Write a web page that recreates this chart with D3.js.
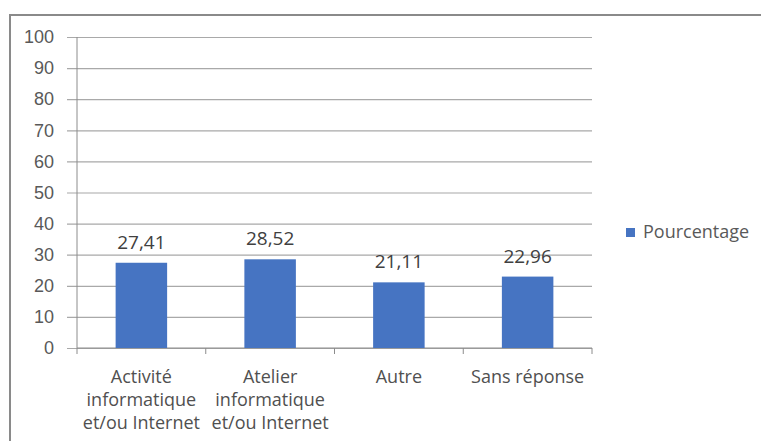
<!DOCTYPE html>
<html>
<head>
<meta charset="utf-8">
<script src="https://cdn.jsdelivr.net/npm/d3@7"></script>
<style>
  html, body { margin: 0; padding: 0; background: #fff; }
  svg { display: block; font-family: "Open Sans", "Liberation Sans", sans-serif; }
</style>
</head>
<body>
<svg id="chart" width="761" height="441"></svg>
<script>
// Chart data
const categories = [
  ["Activité", "informatique", "et/ou Internet"],
  ["Atelier", "informatique", "et/ou Internet"],
  ["Autre"],
  ["Sans réponse"]
];
const values = [27.41, 28.52, 21.11, 22.96];
const valueLabels = ["27,41", "28,52", "21,11", "22,96"];
const yTicks = [0, 10, 20, 30, 40, 50, 60, 70, 80, 90, 100];
const seriesName = "Pourcentage";

const svg = d3.select("#chart");
const barColor = "#4674c2";
const gridColor = "#8c8c8c";
const textColor = "#595959";

// Outer chart frame
svg.append("rect")
  .attr("x", 10).attr("y", 15)
  .attr("width", 800).attr("height", 500)
  .attr("fill", "none").attr("stroke", "#8a8a8a").attr("stroke-width", 2);

const plot = { left: 77, right: 592, top: 37, bottom: 348 };

const x = d3.scaleBand()
  .domain(d3.range(categories.length))
  .range([plot.left, plot.right])
  .padding(0);

const y = d3.scaleLinear()
  .domain([0, 100])
  .range([plot.bottom, plot.top]);

// Gridlines with y ticks
const yAxis = d3.axisLeft(y)
  .tickValues(yTicks)
  .tickSize(-(plot.right - plot.left))
  .tickSizeOuter(0)
  .tickPadding(23)
  .tickFormat(d3.format("d"));

const gy = svg.append("g")
  .attr("transform", `translate(${plot.left},0)`)
  .call(yAxis);
gy.select(".domain").remove();
gy.selectAll(".tick line")
  .attr("x1", -10)
  .attr("stroke", gridColor).attr("stroke-width", 1.2).attr("opacity", 0.75);
gy.selectAll(".tick text")
  .attr("fill", textColor)
  .style("font-size", "18px");

// Vertical axis line
svg.append("line")
  .attr("x1", plot.left).attr("x2", plot.left)
  .attr("y1", plot.top).attr("y2", plot.bottom)
  .attr("stroke", gridColor);

// Category axis with boundary ticks
svg.append("line")
  .attr("x1", plot.left).attr("x2", plot.right)
  .attr("y1", plot.bottom).attr("y2", plot.bottom)
  .attr("stroke", gridColor);
const boundaries = d3.range(categories.length).map(i => x(i)).concat([x.range()[1]]);
svg.append("g").selectAll("line")
  .data(boundaries)
  .join("line")
  .attr("x1", d => d).attr("x2", d => d)
  .attr("y1", plot.bottom).attr("y2", plot.bottom + 6)
  .attr("stroke", gridColor);

// Bars
const barW = x.bandwidth() * 0.4;
svg.append("g").selectAll("rect")
  .data(values)
  .join("rect")
  .attr("x", (d, i) => x(i) + (x.bandwidth() - barW) / 2)
  .attr("y", d => y(d))
  .attr("width", barW)
  .attr("height", d => y(0) - y(d))
  .attr("fill", barColor);

// Value labels
svg.append("g").selectAll("text")
  .data(values)
  .join("text")
  .attr("x", (d, i) => x(i) + x.bandwidth() / 2)
  .attr("y", d => y(d) - 14)
  .attr("text-anchor", "middle")
  .attr("fill", "#404040")
  .style("font-size", "19px")
  .text((d, i) => valueLabels[i]);

// Category labels
const catG = svg.append("g");
categories.forEach((lines, i) => {
  const t = catG.append("text")
    .attr("text-anchor", "middle")
    .attr("fill", "#505050")
    .style("font-size", "18px");
  lines.forEach((ln, j) => {
    t.append("tspan")
      .attr("x", x(i) + x.bandwidth() / 2)
      .attr("y", plot.bottom + 35 + j * 23)
      .text(ln);
  });
});

// Legend
const legend = svg.append("g").attr("transform", "translate(626,228)");
legend.append("rect")
  .attr("width", 9).attr("height", 9)
  .attr("fill", barColor);
legend.append("text")
  .attr("x", 17).attr("y", 10)
  .attr("fill", textColor)
  .style("font-size", "18px")
  .text(seriesName);
</script>
</body>
</html>
